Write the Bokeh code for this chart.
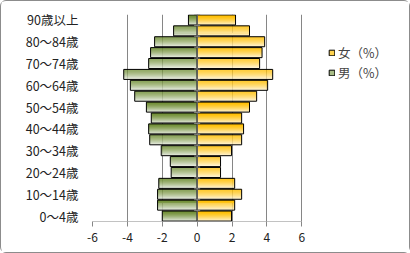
import numpy as np
from bokeh.plotting import figure
from bokeh.models import FixedTicker, Legend, LegendItem, ColumnDataSource
from bokeh.embed import file_html
from bokeh.resources import INLINE

# ---- data (bottom to top) ----
categories = ["0～4歳", "5～9歳", "10～14歳", "15～19歳", "20～24歳", "25～29歳",
              "30～34歳", "35～39歳", "40～44歳", "45～49歳", "50～54歳", "55～59歳",
              "60～64歳", "65～69歳", "70～74歳", "75～79歳", "80～84歳", "85～89歳",
              "90歳以上"]
male = [2.0, 2.27, 2.27, 2.2, 1.49, 1.54, 2.06, 2.72, 2.78, 2.63, 2.91, 3.58,
        3.83, 4.21, 2.78, 2.67, 2.44, 1.35, 0.5]
female = [1.97, 2.15, 2.55, 2.15, 1.34, 1.34, 1.97, 2.55, 2.66, 2.55, 3.0, 3.41,
          4.04, 4.33, 3.58, 3.72, 3.87, 3.0, 2.2]
x_ticks = [-6, -4, -2, 0, 2, 4, 6]
x_tick_labels = ["-6", "-4", "-2", "0", "2", "4", "6"]
series_names = ["女（%）", "男（%）"]

FONT = "Noto Sans CJK JP"
GRID = "#868686"

# frame extended to the right so the legend can sit inside it
p = figure(width=410, height=253, output_backend="svg", toolbar_location=None,
           x_range=(-6, 12), y_range=(-0.5, len(categories) - 0.5),
           min_border_left=91, min_border_right=5, min_border_top=13,
           min_border_bottom=33)
p.styles = {"border": "1px solid #8c8c8c", "border-radius": "6px",
            "box-sizing": "border-box"}
p.outline_line_color = None
p.background_fill_color = "white"

# grid
p.ygrid.grid_line_color = None
p.xgrid.ticker = FixedTicker(ticks=x_ticks)
p.xgrid.grid_line_color = GRID
p.xgrid.grid_line_width = 1

# x axis
p.xaxis.ticker = FixedTicker(ticks=x_ticks)
p.xaxis.major_label_overrides = dict(zip(x_ticks, x_tick_labels))
p.xaxis.axis_line_color = None
p.xaxis.major_tick_line_color = GRID
p.xaxis.major_tick_out = 5
p.xaxis.major_tick_in = 0
p.xaxis.minor_tick_line_color = None
p.xaxis.major_label_text_font = FONT
p.xaxis.major_label_text_font_size = "12px"
p.xaxis.major_label_text_color = "#222222"
p.xaxis.major_label_standoff = 6
p.segment(x0=[x_ticks[0]], x1=[x_ticks[-1]], y0=[-0.5], y1=[-0.5],
          line_color=GRID, line_width=1)

# y axis (category labels at left)
idx = list(range(len(categories)))
p.yaxis.ticker = FixedTicker(ticks=idx[::2])
p.yaxis.major_label_overrides = {i: categories[i] for i in idx}
p.yaxis.axis_line_color = None
p.yaxis.major_tick_line_color = None
p.yaxis.minor_tick_line_color = None
p.yaxis.major_label_text_font = FONT
p.yaxis.major_label_text_font_size = "12.5px"
p.yaxis.major_label_text_color = "#222222"
p.yaxis.major_label_standoff = 8

# bars with simulated vertical gradient
src = ColumnDataSource(dict(y=idx, m=[-v for v in male], f=female))
H = 0.92
N = 10


def mix(c1, c2, t):
    return "#%02x%02x%02x" % tuple(int(round(a + (b - a) * t)) for a, b in zip(c1, c2))


male_top, male_bot = (112, 142, 52), (222, 228, 212)
fem_top, fem_bot = (255, 190, 0), (255, 240, 196)
for k in range(N):
    t = (k / (N - 1)) ** 1.4
    off = H / 2 - (k + 0.5) * H / N
    ys = [v + off for v in idx]
    s = ColumnDataSource(dict(y=ys, m=[-v for v in male], f=female))
    p.hbar(y="y", left="m", right=0, height=H / N + 0.005, source=s,
           fill_color=mix(male_top, male_bot, t), line_color=None)
    p.hbar(y="y", left=0, right="f", height=H / N + 0.005, source=s,
           fill_color=mix(fem_top, fem_bot, t), line_color=None)

p.hbar(y="y", left="m", right=0, height=H, source=src, fill_alpha=0,
       line_color="black", line_width=1)
p.hbar(y="y", left=0, right="f", height=H, source=src, fill_alpha=0,
       line_color="black", line_width=1)

# category axis line at zero
p.segment(x0=[0], x1=[0], y0=[-0.5], y1=[len(categories) - 0.5],
          line_color=GRID, line_width=1)
p.scatter(x=[0] * (len(categories) + 1), y=[i - 0.5 for i in range(len(categories) + 1)],
          marker="dash", size=6, line_color=GRID)

# legend proxies (hidden renderers, drawn only as legend swatches)
rf = p.hbar(y="y", left=0, right="f", height=H, source=src,
            fill_color="#ffd24d", line_color="black", visible=False)
rm = p.hbar(y="y", left="m", right=0, height=H, source=src,
            fill_color="#a9bd86", line_color="black", visible=False)
legend = Legend(items=[LegendItem(label=series_names[0], renderers=[rf]),
                       LegendItem(label=series_names[1], renderers=[rm])],
                location=(236, 139), orientation="vertical",
                border_line_color=None, background_fill_alpha=0,
                glyph_width=7, glyph_height=7, label_text_font=FONT,
                label_text_font_size="12.5px", spacing=1, padding=0,
                label_standoff=3, margin=0, label_height=17,
                click_policy="none")
p.add_layout(legend, "center")

open("out.html", "w").write(file_html(p, INLINE))
